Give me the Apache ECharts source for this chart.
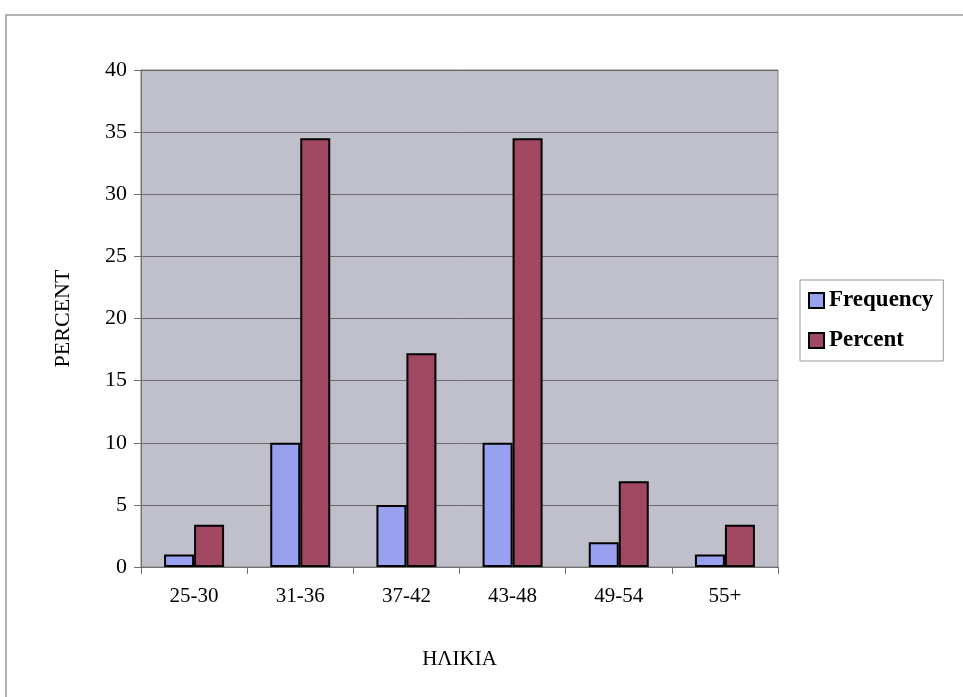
<!DOCTYPE html>
<html>
<head>
<meta charset="utf-8">
<script src="https://cdn.jsdelivr.net/npm/echarts@6/dist/echarts.min.js"></script>
<style>
  html, body { margin: 0; padding: 0; background: #ffffff; }
  #chart { width: 963px; height: 697px; }
</style>
</head>
<body>
<div id="chart"></div>
<script>
// Age groups and their counts / shares
const categories = ['25-30', '31-36', '37-42', '43-48', '49-54', '55+'];
const frequency = [1, 10, 5, 10, 2, 1];
const percent = [3.4, 34.5, 17.2, 34.5, 6.9, 3.4];
const yTicks = { min: 0, max: 40, interval: 5 };

const serif = '"Liberation Serif", "Times New Roman", serif';
const chart = echarts.init(document.getElementById('chart'));

chart.setOption({
  backgroundColor: '#ffffff',
  animation: false,
  graphic: [
    {
      type: 'polyline',
      shape: { points: [[6, 697], [6, 15], [963, 15]] },
      style: { stroke: '#9a9a9a', lineWidth: 1.5, fill: null }
    }
  ],
  grid: {
    left: 141, right: 185, top: 70, bottom: 130,
    show: true,
    backgroundColor: '#c0c0cc',
    borderColor: '#808080',
    borderWidth: 1
  },
  legend: {
    orient: 'vertical',
    left: 800, top: 280,
    padding: [9, 10, 9, 8],
    itemGap: 17,
    itemWidth: 15, itemHeight: 15,
    borderColor: '#9a9a9a', borderWidth: 1,
    icon: 'rect',
    textStyle: { fontFamily: serif, fontSize: 23, fontWeight: 'bold', color: '#000' },
    data: ['Frequency', 'Percent']
  },
  xAxis: {
    type: 'category',
    data: categories,
    name: 'ΗΛΙΚΙΑ',
    nameLocation: 'middle',
    nameGap: 82,
    nameTextStyle: { fontFamily: serif, fontSize: 21, color: '#000' },
    axisLine: { lineStyle: { color: '#707070', width: 1 } },
    axisTick: { show: true, length: 7, lineStyle: { color: '#707070' } },
    axisLabel: { fontFamily: serif, fontSize: 21, color: '#000', margin: 19 }
  },
  yAxis: {
    type: 'value',
    min: yTicks.min, max: yTicks.max, interval: yTicks.interval,
    name: 'PERCENT',
    nameLocation: 'middle',
    nameGap: 67,
    nameTextStyle: { fontFamily: serif, fontSize: 22, color: '#000' },
    axisLine: { show: true, lineStyle: { color: '#707070', width: 1 } },
    axisTick: { show: true, length: 7, lineStyle: { color: '#707070' } },
    axisLabel: { fontFamily: serif, fontSize: 22, color: '#000', margin: 14 },
    splitLine: { lineStyle: { color: '#6a6a6a', width: 1 } }
  },
  series: [
    {
      name: 'Frequency',
      type: 'bar',
      data: frequency,
      barWidth: 30,
      barGap: '0%',
      itemStyle: { color: '#99a0f0', borderColor: '#000', borderWidth: 2 }
    },
    {
      name: 'Percent',
      type: 'bar',
      data: percent,
      barWidth: 30,
      barGap: '0%',
      itemStyle: { color: '#a04862', borderColor: '#000', borderWidth: 2 }
    }
  ]
});
</script>
</body>
</html>
